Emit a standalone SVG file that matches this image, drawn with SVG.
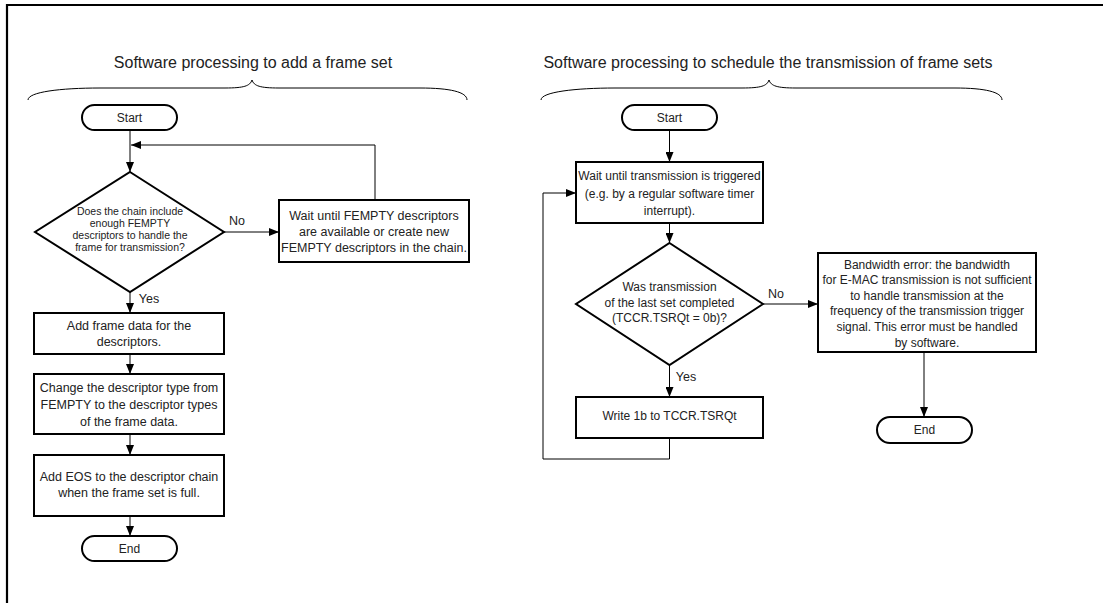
<svg xmlns="http://www.w3.org/2000/svg" width="1103" height="603" viewBox="0 0 1103 603">
<defs>
<marker id="ah" markerWidth="10" markerHeight="8" refX="10" refY="4" orient="auto" markerUnits="userSpaceOnUse">
<path d="M0,0 L10,4 L0,8 Z" fill="#000"/>
</marker>
<style>
text{font-family:"Liberation Sans",Arial,sans-serif;fill:#222;text-anchor:middle}
.t{font-size:16px}
.n{font-size:12.5px}
.m{font-size:12px}
.s{font-size:10.5px}
.b{fill:#fff;stroke:#000;stroke-width:2}
.c{fill:none;stroke:#000;stroke-width:1}
.a{fill:none;stroke:#000;stroke-width:1;marker-end:url(#ah)}
.br{fill:none;stroke:#000;stroke-width:1}
</style>
</defs>
<rect width="1103" height="603" fill="#fff"/>
<path d="M7,603 V5 H1103" fill="none" stroke="#000" stroke-width="2.2"/>

<g id="titles">
<text class="t" x="253" y="68">Software processing to add a frame set</text>
<text class="t" x="768" y="68">Software processing to schedule the transmission of frame sets</text>
<path class="br" d="M28,100 C28,92 60,88 100,88 H225 C244,88 250,86 252,80 C254,86 260,88 279,88 H420 C450,88 467,92 467,100"/>
<path class="br" d="M541,100 C541,92 575,88 615,88 H742 C761,88 767,86 769,80 C771,86 777,88 796,88 H955 C985,88 1002,92 1002,100"/>
</g>

<g id="connectors">
<line class="a" x1="130" y1="130" x2="130" y2="172"/>
<polyline class="a" points="375,200 375,145 131,145"/>
<line class="a" x1="224" y1="232" x2="279" y2="232"/>
<line class="a" x1="130" y1="292" x2="130" y2="313"/>
<line class="a" x1="130" y1="354" x2="130" y2="374"/>
<line class="a" x1="130" y1="434" x2="130" y2="455"/>
<line class="a" x1="130" y1="516" x2="130" y2="536"/>
<line class="a" x1="669.5" y1="130" x2="669.5" y2="162"/>
<line class="a" x1="669.5" y1="223" x2="669.5" y2="243"/>
<line class="a" x1="763" y1="304" x2="818" y2="304"/>
<line class="a" x1="669.5" y1="365" x2="669.5" y2="397"/>
<polyline class="a" points="669.5,438 669.5,459 543,459 543,193 576,193"/>
<line class="a" x1="924" y1="352" x2="924" y2="417"/>
<text class="n" x="237" y="225">No</text>
<text class="n" x="149" y="303">Yes</text>
<text class="n" x="776" y="298">No</text>
<text class="n" x="686" y="381">Yes</text>
</g>

<g id="start1">
<rect class="b" x="82" y="105" width="95" height="25" rx="12.5"/>
<text class="m" x="129.5" y="122">Start</text>
</g>
<g id="decision1">
<polygon class="b" points="130,172 224,232 130,292 35,232"/>
<text class="s" x="130" y="215">Does the chain include</text>
<text class="s" x="130" y="227">enough FEMPTY</text>
<text class="s" x="130" y="239">descriptors to handle the</text>
<text class="s" x="130" y="251">frame for transmission?</text>
</g>
<g id="wait1">
<rect class="b" x="279" y="200" width="190" height="62"/>
<text class="n" x="374" y="220">Wait until FEMPTY descriptors</text>
<text class="n" x="374" y="236">are available or create new</text>
<text class="n" x="374" y="252">FEMPTY descriptors in the chain.</text>
</g>
<g id="addframe">
<rect class="b" x="34" y="313" width="190" height="41"/>
<text class="n" x="129" y="330">Add frame data for the</text>
<text class="n" x="129" y="346">descriptors.</text>
</g>
<g id="change">
<rect class="b" x="34" y="374" width="190" height="60"/>
<text class="n" x="129" y="392">Change the descriptor type from</text>
<text class="n" x="129" y="409">FEMPTY to the descriptor types</text>
<text class="n" x="129" y="426">of the frame data.</text>
</g>
<g id="addeos">
<rect class="b" x="34" y="455" width="190" height="61"/>
<text class="n" x="129" y="481">Add EOS to the descriptor chain</text>
<text class="n" x="129" y="497">when the frame set is full.</text>
</g>
<g id="end1">
<rect class="b" x="82" y="536" width="95" height="25" rx="12.5"/>
<text class="m" x="129.5" y="553">End</text>
</g>

<g id="start2">
<rect class="b" x="622" y="105" width="95" height="25" rx="12.5"/>
<text class="m" x="669.5" y="122">Start</text>
</g>
<g id="wait2">
<rect class="b" x="576" y="162" width="187" height="61"/>
<text class="m" x="669.5" y="180">Wait until transmission is triggered</text>
<text class="m" x="669.5" y="198">(e.g. by a regular software timer</text>
<text class="m" x="669.5" y="215">interrupt).</text>
</g>
<g id="decision2">
<polygon class="b" points="669.5,243 763,304 669.5,365 576,304"/>
<text class="m" x="669.5" y="291">Was transmission</text>
<text class="m" x="669.5" y="307">of the last set completed</text>
<text class="m" x="669.5" y="322">(TCCR.TSRQt = 0b)?</text>
</g>
<g id="write">
<rect class="b" x="576" y="397" width="187" height="41"/>
<text class="m" x="669.5" y="420">Write 1b to TCCR.TSRQt</text>
</g>
<g id="bandwidth">
<rect class="b" x="818" y="253" width="218" height="99"/>
<text class="m" x="927" y="269">Bandwidth error: the bandwidth</text>
<text class="m" x="927" y="284">for E-MAC transmission is not sufficient</text>
<text class="m" x="927" y="300">to handle transmission at the</text>
<text class="m" x="927" y="315">frequency of the transmission trigger</text>
<text class="m" x="927" y="331">signal. This error must be handled</text>
<text class="m" x="927" y="347">by software.</text>
</g>
<g id="end2">
<rect class="b" x="877" y="417" width="95" height="26" rx="13"/>
<text class="m" x="924.5" y="434">End</text>
</g>
</svg>
